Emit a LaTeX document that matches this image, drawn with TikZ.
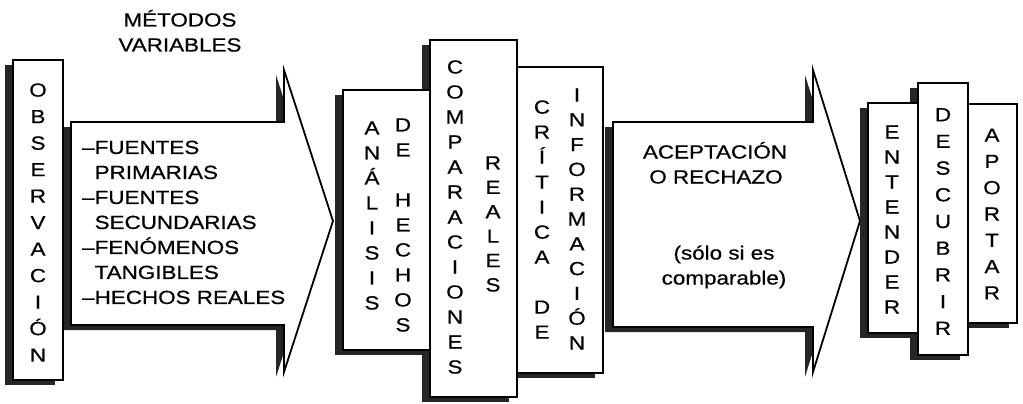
\documentclass[tikz,border=0pt]{standalone}
\usepackage{fontspec}
\setmainfont{Liberation Sans}[FakeStretch=1.18, FakeBold=0.6]
\usetikzlibrary{shadows}
\newcommand{\vfont}[1]{\fontsize{19}{#1}\selectfont}
\begin{document}
\begin{tikzpicture}[x=1pt,y=-1pt,
  box/.style={draw=black, line width=1.6pt, fill=white, inner sep=0pt,
    drop shadow={shadow xshift=-8pt, shadow yshift=-5pt, fill=black!85, opacity=1}},
  vcol/.style={align=center, inner sep=0pt, font=\vfont{#1}},
  lab/.style={anchor=base, inner sep=0pt, font=\vfont{25}},
  shadowfill/.style={fill=black!85},
  arrowshape/.style={draw=black, line width=1.8pt, fill=white, line join=miter}]
\fill[white] (0,0) rectangle (1023,404);
\useasboundingbox (0,0) rectangle (1023,404);

% ---- arrow 1
\fill[shadowfill, shift={(-8,5)}] (71,122) -- (284,122) -- (284,70) -- (333,221) -- (284,372) -- (284,325) -- (71,325) -- cycle;
\draw[arrowshape] (71,122) -- (284,122) -- (284,70) -- (333,221) -- (284,372) -- (284,325) -- (71,325) -- cycle;

% ---- OBSERVACION box
\node[box, minimum width=50pt, minimum height=320pt] (obsbox) at (38,220) {};

% ---- middle boxes
\node[box, minimum width=86pt, minimum height=306pt] (critbox) at (560,220) {};

% ---- arrow 2
\fill[shadowfill, shift={(-8,5)}] (613,122) -- (813,122) -- (813,70) -- (860,221) -- (813,372) -- (813,327) -- (613,327) -- cycle;
\draw[arrowshape] (613,122) -- (813,122) -- (813,70) -- (860,221) -- (813,372) -- (813,327) -- (613,327) -- cycle;

\node[box, minimum width=87pt, minimum height=357pt] (compbox) at (473.5,218.5) {};
\node[box, minimum width=87pt, minimum height=260pt] (anabox) at (386.5,220) {};

% ---- right boxes
\node[box, minimum width=49pt, minimum height=219pt] (apobox) at (992.5,213.5) {};
\node[box, minimum width=50pt, minimum height=272pt] (descbox) at (943,219) {};
\node[box, minimum width=50pt, minimum height=230pt] (entbox) at (893,218) {};

% ---- vertical texts
\node[vcol=26.5] (obs) at (38,222.5) {O\\B\\S\\E\\R\\V\\A\\C\\I\\Ó\\N};
\node[vcol=25] (ana) at (372,215.5) {A\\N\\Á\\L\\I\\S\\I\\S};
\node[vcol=25] (deh) at (403,225) {D\\E\\[25pt]H\\E\\C\\H\\O\\S};
\node[vcol=25] (comp) at (455,217) {C\\O\\M\\P\\A\\R\\A\\C\\I\\O\\N\\E\\S};
\node[vcol=24.4] (real) at (493,224) {R\\E\\A\\L\\E\\S};
\node[vcol=25] (crit) at (542,219.5) {C\\R\\Í\\T\\I\\C\\A\\[25pt]D\\E};
\node[vcol=24.8] (info) at (577,219) {I\\N\\F\\O\\R\\M\\A\\C\\I\\Ó\\N};
\node[vcol=25] (ent) at (892,219.5) {E\\N\\T\\E\\N\\D\\E\\R};
\node[vcol=26.7] (desc) at (943,221.5) {D\\E\\S\\C\\U\\B\\R\\I\\R};
\node[vcol=26.3] (apo) at (992,214) {A\\P\\O\\R\\T\\A\\R};

% ---- horizontal texts
\node[lab] (met1) at (180,26.5) {MÉTODOS};
\node[lab] (met2) at (180,51.5) {VARIABLES};
\node[align=left, anchor=north west, inner sep=0pt, font=\vfont{25}] (fuentes) at (82,140.5)
  {–FUENTES\\\phantom{–}PRIMARIAS\\–FUENTES\\\phantom{–}SECUNDARIAS\\–FENÓMENOS\\\phantom{–}TANGIBLES\\–HECHOS REALES};
\node[lab] (acep1) at (715,158.5) {ACEPTACIÓN};
\node[lab] (acep2) at (716,183.5) {O RECHAZO};
\node[lab] (solo1) at (724,259.5) {(sólo si es};
\node[lab] (solo2) at (724,284.5) {comparable)};
\end{tikzpicture}
\end{document}
